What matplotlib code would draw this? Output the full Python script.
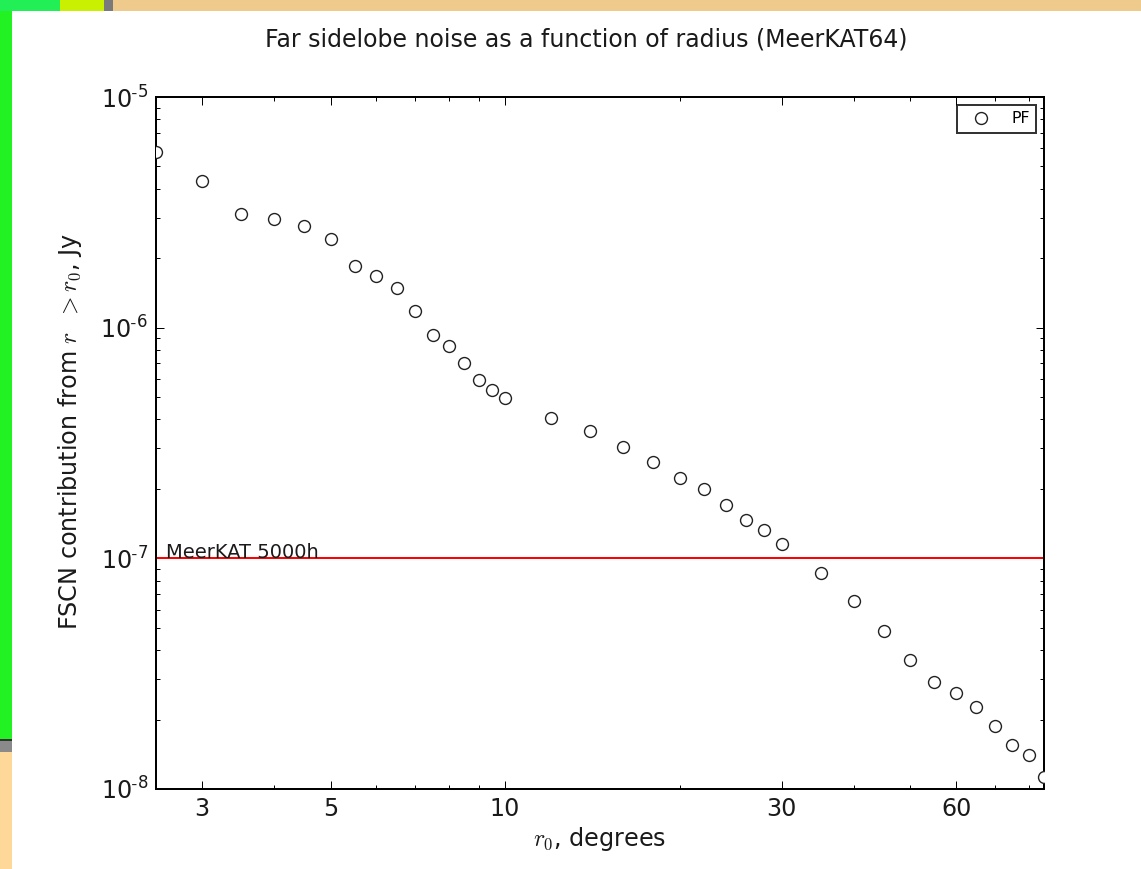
import matplotlib
matplotlib.use("Agg")
import matplotlib.pyplot as plt
from matplotlib.patches import Rectangle
from matplotlib.ticker import FixedLocator, FixedFormatter, LogLocator, NullFormatter

# ---- data ----
r0 = [2.5, 3.0, 3.5, 4.0, 4.5, 5.0, 5.5, 6.0, 6.5, 7.0, 7.5, 8.0, 8.5, 9.0, 9.5, 10.0,
      12, 14, 16, 18, 20, 22, 24, 26, 28, 30,
      35, 40, 45, 50, 55, 60, 65, 70, 75, 80, 85]
fscn = [5.78e-6, 4.32e-6, 3.11e-6, 2.96e-6, 2.76e-6, 2.42e-6, 1.85e-6, 1.68e-6,
        1.49e-6, 1.18e-6, 9.3e-7, 8.3e-7, 7.03e-7, 5.93e-7, 5.37e-7, 4.96e-7,
        4.06e-7, 3.57e-7, 3.04e-7, 2.62e-7, 2.23e-7, 2.0e-7, 1.70e-7, 1.47e-7,
        1.33e-7, 1.15e-7,
        8.67e-8, 6.56e-8, 4.86e-8, 3.62e-8, 2.92e-8, 2.61e-8, 2.27e-8, 1.88e-8,
        1.55e-8, 1.40e-8, 1.125e-8]
threshold = 1e-7
threshold_label = "MeerKAT 5000h"
xticks = [3, 5, 10, 30, 60]
xticklabels = ["3", "5", "10", "30", "60"]
xminor = [4, 6, 7, 8, 9, 20, 40, 50, 70, 80]
yticks = [1e-8, 1e-7, 1e-6, 1e-5]
yexponents = ["8", "7", "6", "5"]

S = 1.43  # scale from original 80dpi rendering
plt.rcParams["mathtext.fontset"] = "cm"
plt.rcParams["font.family"] = ["DejaVu Sans"]
plt.rcParams["axes.unicode_minus"] = False
TXT = "#1a1a1a"

W, H = 1141, 869
fig = plt.figure(figsize=(W / 100, H / 100), dpi=100, facecolor="white")

def frect(x0, y0, x1, y1, color):
    # pixel coords with y from top
    fig.patches.append(Rectangle((x0 / W, 1 - y1 / H), (x1 - x0) / W, (y1 - y0) / H,
                                 transform=fig.transFigure, facecolor=color,
                                 edgecolor="none", zorder=-10))

# screenshot background around the chart
frect(0, 0, 60, 11, "#22ee55")
frect(60, 0, 104, 11, "#c8f000")
frect(104, 0, 113, 11, "#7a7a7a")
frect(113, 0, W, 11, "#eecb8c")
frect(0, 11, 12, 739, "#22f222")
frect(0, 739, 12, 741, "#333333")
frect(0, 741, 12, 752, "#8a8a8a")
frect(0, 752, 12, H, "#fed899")

ax = fig.add_axes([156 / W, 1 - 789 / H, 888 / W, 692 / H])
ax.set_xscale("log")
ax.set_yscale("log")

ax.plot(r0, fscn, linestyle="none", marker="o", markersize=6 * S,
        markerfacecolor="white", markeredgecolor="#222222", markeredgewidth=0.7 * S,
        label="PF", zorder=3)
ax.axhline(threshold, color="red", linewidth=1.0 * S, zorder=2)
ax.text(2.6, threshold, threshold_label, fontsize=14, ha="left", va="baseline", color=TXT)

ax.set_xlim(2.5, 85)
ax.set_ylim(1e-8, 1e-5)

ax.xaxis.set_major_locator(FixedLocator(xticks))
ax.xaxis.set_major_formatter(FixedFormatter(xticklabels))
ax.xaxis.set_minor_locator(FixedLocator(xminor))
ax.xaxis.set_minor_formatter(NullFormatter())
ax.yaxis.set_major_locator(FixedLocator(yticks))
ax.yaxis.set_major_formatter(FixedFormatter(
    [r"$\mathdefault{10^{\text{-}%s}}$" % e for e in yexponents]))
ax.yaxis.set_minor_locator(LogLocator(base=10, subs=range(2, 10), numticks=20))
ax.yaxis.set_minor_formatter(NullFormatter())

ax.tick_params(which="both", direction="in", top=True, right=True,
               labelsize=12 * S, width=0.5 * S, pad=4 * S, labelcolor=TXT)
ax.tick_params(which="major", length=4 * S)
ax.tick_params(which="minor", length=2 * S)
for sp in ax.spines.values():
    sp.set_linewidth(1.0 * S)

ax.set_xlabel(r"$r_0$, degrees", fontsize=12 * S, labelpad=2 * S, color=TXT)
ax.set_ylabel(r"FSCN contribution from $r\ \ > r_0$, Jy", fontsize=12 * S,
              labelpad=2 * S, color=TXT)
ax.yaxis.set_label_coords(-0.081, 0.517)

fig.suptitle("Far sidelobe noise as a function of radius (MeerKAT64)",
             x=586 / W, y=1 - 27 / H, va="top", fontsize=12 * S * 0.99, color=TXT)

leg = ax.legend(loc="upper right", numpoints=1, fontsize=8 * S, frameon=True,
                fancybox=False, borderaxespad=0.5, borderpad=0.4,
                handlelength=2.2, handletextpad=0.8)
leg.get_frame().set_edgecolor("black")
leg.get_frame().set_linewidth(1.0 * S)

fig.savefig("out.png", dpi=100, facecolor="white")
